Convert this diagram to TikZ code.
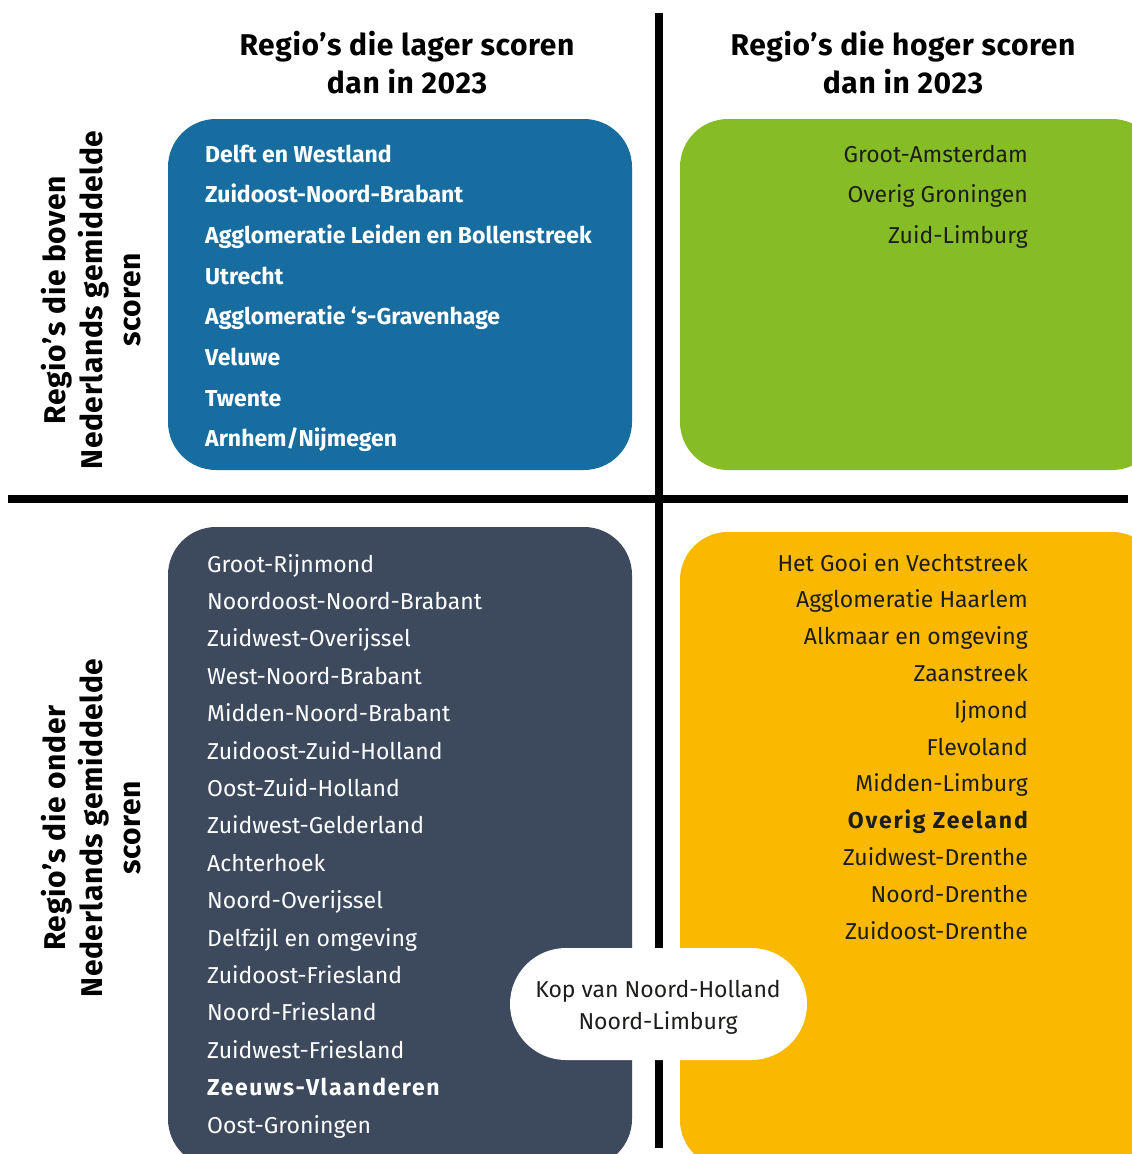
\documentclass[tikz,border=0pt]{standalone}
\usepackage{fontspec}
\setmainfont{Fira Sans}
\definecolor{qblue}{HTML}{176DA0}
\definecolor{qgreen}{HTML}{86BC25}
\definecolor{qnavy}{HTML}{3D4A5E}
\definecolor{qyellow}{HTML}{FAB900}
\definecolor{qdark}{HTML}{1D1D1B}
\begin{document}
\begin{tikzpicture}[x=1pt,y=-1pt,
  panel/.style={rounded corners=48pt, inner sep=0pt, draw=none},
  hdr/.style={font=\fontsize{30}{36}\selectfont\bfseries\addfontfeatures{LetterSpace=2}, anchor=base, text=black, inner sep=0pt},
  side/.style={hdr, rotate=90},
  itm/.style={font=\fontsize{23}{28}\selectfont, inner sep=0pt},
  itmL/.style={itm, anchor=base west},
  itmR/.style={itm, anchor=base east, text=qdark},
  divider/.style={line width=8pt, black}
]
\useasboundingbox (0,0) rectangle (1132,1154);
\clip (0,0) rectangle (1132,1154);
\fill[white] (0,0) rectangle (1132,1154);

% dividers
\coordinate (vtop) at (658.5,13);
\coordinate (vbot) at (658.5,1148);
\coordinate (hleft) at (8,499);
\coordinate (hright) at (1128,499);
\draw[divider] (vtop) -- (vbot);
\draw[divider] (hleft) -- (hright);

% panels
\node[panel, fill=qblue, minimum width=464pt, minimum height=351pt] (pblue) at (400,294.5) {};
\node[panel, fill=qgreen, minimum width=480pt, minimum height=351pt] (pgreen) at (920,294.5) {};
\node[panel, fill=qnavy, minimum width=464pt, minimum height=640pt] (pnavy) at (400,847) {};
\node[panel, fill=qyellow, minimum width=480pt, minimum height=636pt] (pyellow) at (920,850) {};

% headers
\node[hdr] (h1a) at (407,55) {Regio’s die lager scoren};
\node[hdr] (h1b) at (407,93) {dan in 2023};
\node[hdr] (h2a) at (903,55) {Regio’s die hoger scoren};
\node[hdr] (h2b) at (903,93) {dan in 2023};

% side labels
\node[side] (s1a) at (65,300) {Regio’s die boven};
\node[side] (s1b) at (102,300) {Nederlands gemiddelde};
\node[side] (s1c) at (140,300) {scoren};
\node[side] (s2a) at (65,828) {Regio’s die onder};
\node[side] (s2b) at (102,828) {Nederlands gemiddelde};
\node[side] (s2c) at (140,828) {scoren};

% blue items
\foreach \t [count=\i from 0] in {Delft en Westland, Zuidoost-Noord-Brabant, Agglomeratie Leiden en Bollenstreek, Utrecht, Agglomeratie ‘s-Gravenhage, Veluwe, Twente, Arnhem/Nijmegen}
  \node[itmL, text=white, font=\fontsize{23}{28}\selectfont\bfseries] (b\i) at (205,162+40.7*\i) {\t};

% green items
\foreach \t [count=\i from 0] in {Groot-Amsterdam, Overig Groningen, Zuid-Limburg}
  \node[itmR] (g\i) at (1028,162+40.7*\i) {\t};

% navy items
\foreach \t [count=\i from 0] in {Groot-Rijnmond, Noordoost-Noord-Brabant, Zuidwest-Overijssel, West-Noord-Brabant, Midden-Noord-Brabant, Zuidoost-Zuid-Holland, Oost-Zuid-Holland, Zuidwest-Gelderland, Achterhoek, Noord-Overijssel, Delfzijl en omgeving, Zuidoost-Friesland, Noord-Friesland, Zuidwest-Friesland, {\bfseries\addfontfeatures{LetterSpace=7}Zeeuws-Vlaanderen}, Oost-Groningen}
  \node[itmL, text=white] (n\i) at (207,572+37.4*\i) {\t};

% yellow items
\foreach \t [count=\i from 0] in {Het Gooi en Vechtstreek, Agglomeratie Haarlem, Alkmaar en omgeving, Zaanstreek, Ijmond, Flevoland, Midden-Limburg, {\bfseries\addfontfeatures{LetterSpace=8}Overig Zeeland}, Zuidwest-Drenthe, Noord-Drenthe, Zuidoost-Drenthe}
  \node[itmR] (y\i) at (1028,571+36.8*\i) {\t};

% pill
\node[rounded corners=56pt, fill=white, minimum width=297pt, minimum height=112pt, inner sep=0pt] (pill) at (658.5,1004) {};
\node[itm, anchor=base, text=qdark] (k1) at (658,997) {Kop van Noord-Holland};
\node[itm, anchor=base, text=qdark] (k2) at (658,1029) {Noord-Limburg};
\end{tikzpicture}
\end{document}
